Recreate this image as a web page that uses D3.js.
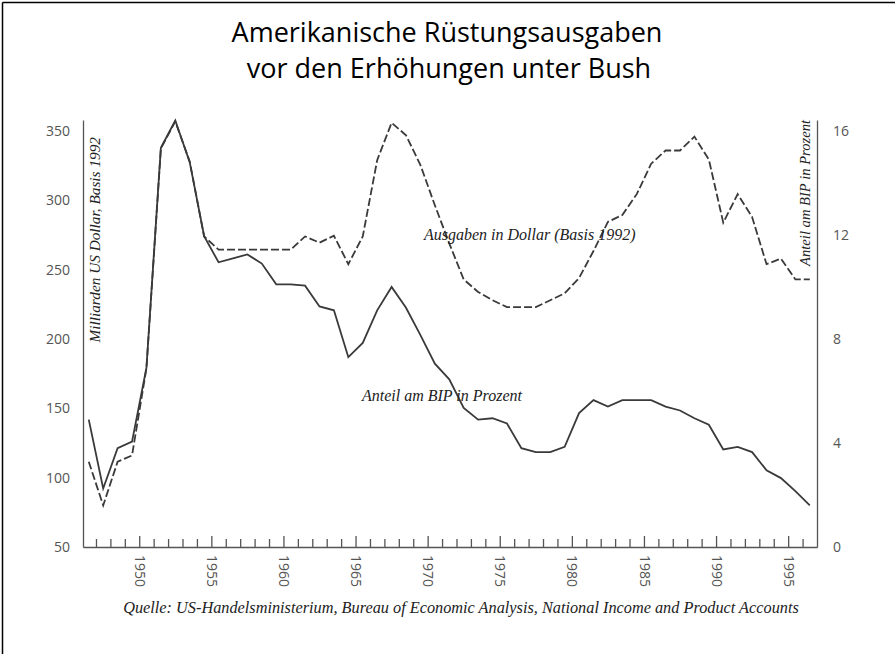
<!DOCTYPE html>
<html>
<head>
<meta charset="utf-8">
<script src="https://cdn.jsdelivr.net/npm/d3@7"></script>
<style>
  body { margin: 0; background: #fff; }
  .title { font-family: "Open Sans", sans-serif; font-size: 27px; fill: #000; }
  .axis text { font-family: "Open Sans", sans-serif; font-size: 14px; fill: #555; }
  .axis path, .axis line { stroke: #555; stroke-width: 1.3; }
  .note { font-family: "Liberation Serif", "Times New Roman", serif; font-style: italic; font-size: 16px; fill: #222; }
  .line { fill: none; stroke: #3a3a3a; stroke-width: 1.8; }
</style>
</head>
<body>
<script>
// fiscal years, the values sit half a year left of the year tick
var years = [1947, 1948, 1949, 1950, 1951, 1952, 1953, 1954, 1955, 1956,
	1957, 1958, 1959, 1960, 1961, 1962, 1963, 1964, 1965, 1966,
	1967, 1968, 1969, 1970, 1971, 1972, 1973, 1974, 1975, 1976,
	1977, 1978, 1979, 1980, 1981, 1982, 1983, 1984, 1985, 1986,
	1987, 1988, 1989, 1990, 1991, 1992, 1993, 1994, 1995, 1996, 1997];

// Ausgaben in Dollar (Milliarden, Basis 1992), dashed line, left axis
var ausgaben = [111.5, 80, 111.5, 116, 179, 337.5, 357, 328, 274, 264.5,
	264.5, 264.5, 264.5, 264.5, 264.5, 274, 269.5, 274.5, 254, 274,
	329, 356, 347, 325.5, 296.5, 269, 243, 234, 228, 223,
	223, 223, 228, 233, 244, 263.5, 284.5, 289.5, 304.5, 326.5,
	336, 336, 346, 329.5, 284, 304.5, 288, 254, 258, 243, 243];

// Anteil am BIP in Prozent, solid line, right axis
var anteil = [4.9, 2.25, 3.8, 4.05, 6.9, 15.35, 16.4, 14.8, 11.95, 10.95,
	11.1, 11.25, 10.9, 10.1, 10.1, 10.05, 9.25, 9.1, 7.3, 7.85,
	9.1, 10.0, 9.2, 8.15, 7.05, 6.45, 5.35, 4.9, 4.95, 4.75,
	3.8, 3.65, 3.65, 3.85, 5.15, 5.65, 5.4, 5.65, 5.65, 5.65,
	5.4, 5.25, 4.95, 4.7, 3.75, 3.85, 3.65, 2.95, 2.65, 2.15, 1.6];

var labelYears = [1950, 1955, 1960, 1965, 1970, 1975, 1980, 1985, 1990, 1995];
var leftTicks = [50, 100, 150, 200, 250, 300, 350];
var rightTicks = [0, 4, 8, 12, 16];

var margin = {top: 120, right: 78, bottom: 107, left: 83},
	width = 895 - margin.left - margin.right,
	height = 654 - margin.top - margin.bottom;

var svg = d3.select("body").append("svg")
	.attr("width", 895)
	.attr("height", 654);

// frame of the scanned page, only top and left edge are visible
svg.append("line").attr("x1", 2.5).attr("x2", 895).attr("y1", 2.5).attr("y2", 2.5)
	.attr("stroke", "#000").attr("stroke-width", 1.5);
svg.append("line").attr("x1", 2.5).attr("x2", 2.5).attr("y1", 2.5).attr("y2", 654)
	.attr("stroke", "#000").attr("stroke-width", 1.5);

// title
svg.append("text").attr("class", "title")
	.attr("x", 447).attr("y", 42)
	.attr("text-anchor", "middle")
	.text("Amerikanische Rüstungsausgaben");
svg.append("text").attr("class", "title")
	.attr("x", 449).attr("y", 78)
	.attr("text-anchor", "middle")
	.text("vor den Erhöhungen unter Bush");

var g = svg.append("g")
	.attr("transform", "translate(" + margin.left + "," + margin.top + ")");

// scales, the axis lines run a little above the top tick
var x = d3.scaleLinear().domain([1946.1, 1997]).range([0, width]);
var yLeft = d3.scaleLinear().domain([50, 358]).range([height, 0]);
var yRight = d3.scaleLinear().domain([0, 16.42]).range([height, 0]);

// x axis: short ticks every year, longer ones every 5 years
g.append("g")
	.attr("class", "axis")
	.attr("transform", "translate(0," + height + ")")
	.call(d3.axisBottom(x)
		.tickValues(years.filter(function(d) { return d < 1997 && d % 5 != 0; }))
		.tickSize(-8).tickSizeOuter(0).tickFormat(""));

var xAxis = g.append("g")
	.attr("class", "axis")
	.attr("transform", "translate(0," + height + ")")
	.call(d3.axisBottom(x)
		.tickValues(labelYears)
		.tickSize(-11).tickSizeOuter(0).tickFormat(d3.format("d")));
xAxis.select(".domain").remove();
xAxis.selectAll("text")
	.attr("transform", "rotate(90)")
	.attr("x", 8)
	.attr("y", 0)
	.attr("dy", "0.35em")
	.attr("text-anchor", "start");

// left axis
g.append("g")
	.attr("class", "axis")
	.call(d3.axisLeft(yLeft).tickValues(leftTicks)
		.tickSize(0).tickPadding(13));

// right axis
g.append("g")
	.attr("class", "axis")
	.attr("transform", "translate(" + width + ",0)")
	.call(d3.axisRight(yRight).tickValues(rightTicks)
		.tickSize(0).tickPadding(16));

// axis titles
svg.append("text").attr("class", "note")
	.attr("transform", "translate(100,137) rotate(-90)")
	.attr("text-anchor", "end")
	.style("font-size", "15.3px")
	.text("Milliarden US Dollar, Basis 1992");
svg.append("text").attr("class", "note")
	.attr("transform", "translate(810,120) rotate(-90)")
	.attr("text-anchor", "end")
	.style("font-size", "14.6px")
	.text("Anteil am BIP in Prozent");

// lines
var dollarLine = d3.line()
	.x(function(d, i) { return x(years[i] - 0.5); })
	.y(function(d) { return yLeft(d); });

var shareLine = d3.line()
	.x(function(d, i) { return x(years[i] - 0.5); })
	.y(function(d) { return yRight(d); });

g.append("path")
	.datum(ausgaben)
	.attr("class", "line")
	.attr("stroke-dasharray", "8,3")
	.attr("d", dollarLine);

g.append("path")
	.datum(anteil)
	.attr("class", "line")
	.attr("d", shareLine);

// labels inside the plot
svg.append("text").attr("class", "note")
	.attr("x", 424).attr("y", 240)
	.text("Ausgaben in Dollar (Basis 1992)");
svg.append("text").attr("class", "note")
	.attr("x", 362).attr("y", 401)
	.text("Anteil am BIP in Prozent");

// source
svg.append("text").attr("class", "note")
	.attr("x", 461).attr("y", 613)
	.attr("text-anchor", "middle")
	.style("font-size", "16.3px")
	.text("Quelle: US-Handelsministerium, Bureau of Economic Analysis, National Income and Product Accounts");
</script>
</body>
</html>
